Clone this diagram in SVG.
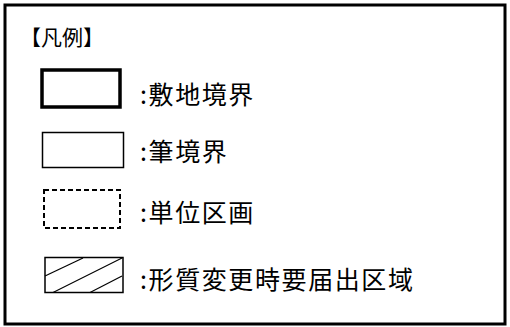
<svg xmlns="http://www.w3.org/2000/svg" width="510" height="327" viewBox="0 0 510 327">
<style>
.t{font-family:"Noto Sans CJK JP","Noto Sans",sans-serif;fill:#000;}
.lab{font-size:25px;letter-spacing:1.6px;}
.sym{fill:#fff;stroke:#000;}
</style>
<rect x="0" y="0" width="510" height="327" fill="#fff"/>
<g id="frame"><rect x="5" y="5" width="500" height="319" fill="none" stroke="#000" stroke-width="3"/></g>
<g id="title"><text class="t" x="20" y="45" font-size="21">【凡例】</text></g>
<g id="legend-site">
<rect class="sym" x="42" y="70" width="78" height="37" stroke-width="3.5"/>
<text class="t lab" x="140" y="104">:敷地境界</text>
</g>
<g id="legend-lot">
<rect class="sym" x="42.5" y="132.5" width="81" height="35" stroke-width="1.5"/>
<text class="t lab" x="140" y="161">:筆境界</text>
</g>
<g id="legend-unit">
<rect class="sym" x="44" y="190" width="76" height="38" stroke-width="2" stroke-dasharray="5,3"/>
<text class="t lab" x="140" y="222">:単位区画</text>
</g>
<g id="legend-area">
<rect class="sym" x="45" y="257.5" width="78" height="35" stroke-width="1.5"/>
<g stroke="#000" stroke-width="1.2">
<line x1="45" y1="276" x2="83" y2="258"/>
<line x1="53" y1="292.5" x2="122" y2="258"/>
<line x1="90" y1="292.5" x2="122" y2="276"/>
</g>
<text class="t lab" x="140" y="289">:形質変更時要届出区域</text>
</g>
<g id="connectors"></g>
</svg>
